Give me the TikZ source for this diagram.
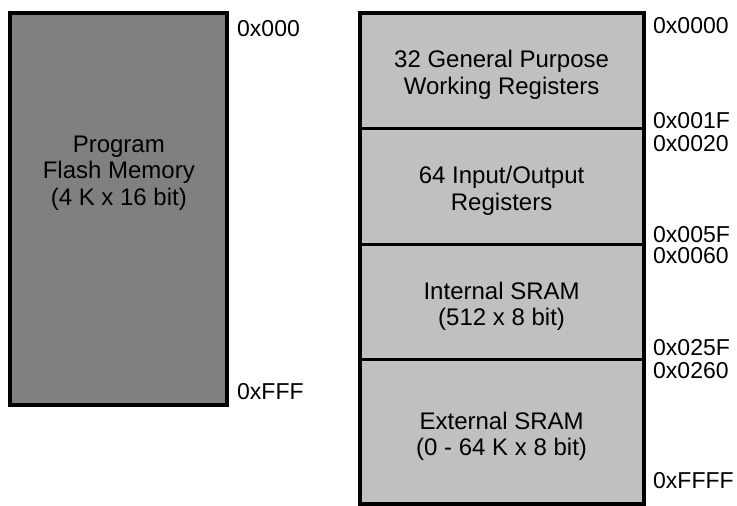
\documentclass[tikz,border=0pt]{standalone}
\usepackage{fontspec}
\setmainfont{Liberation Sans}
\definecolor{flashgray}{RGB}{128,128,128}
\definecolor{ramgray}{RGB}{192,192,192}
\tikzset{
  txt/.style={anchor=base, inner sep=0pt, font=\fontsize{24}{26.5}\selectfont},
  addr/.style={anchor=base west, inner sep=0pt, text height=16.5pt, text depth=0pt, font=\fontsize{23}{26.5}\selectfont},
  region/.style={draw=black, line width=3pt, anchor=north west, inner sep=0pt, outer sep=0pt},
  frame/.style={draw=black, line width=4pt, anchor=north west, inner sep=0pt, outer sep=0pt}
}
\begin{document}
\begin{tikzpicture}[x=1pt, y=-1pt]
\useasboundingbox (0,0) rectangle (737,506);
% left: program flash
\node[frame, fill=flashgray, minimum width=217pt, minimum height=392.3pt] (flash) at (10.3,13) {};
\node[txt] (f1) at (118.8,152.3) {Program};
\node[txt] (f2) at (118.8,178.8) {Flash Memory};
\node[txt] (f3) at (118.8,205.3) {(4 K x 16 bit)};
\node[addr] (a0) at (237,36) {0x000};
\node[addr] (a1) at (237,399) {0xFFF};
% right: data memory
\node[region, fill=ramgray, minimum width=284.3pt, minimum height=115.8pt] (gpr) at (359.5,13) {};
\node[region, fill=ramgray, minimum width=284.3pt, minimum height=115.5pt] (io) at (359.5,128.8) {};
\node[region, fill=ramgray, minimum width=284.3pt, minimum height=115.3pt] (isram) at (359.5,244.3) {};
\node[region, fill=ramgray, minimum width=284.3pt, minimum height=143.9pt] (esram) at (359.5,359.6) {};
\node[frame, minimum width=284.3pt, minimum height=490.5pt] (data) at (359.5,13) {};
\node[txt] (g1) at (501.6,67.7) {32 General Purpose};
\node[txt] (g2) at (501.6,94.3) {Working Registers};
\node[txt] (i1) at (501.6,183.4) {64 Input/Output};
\node[txt] (i2) at (501.6,210) {Registers};
\node[txt] (s1) at (501.6,299.3) {Internal SRAM};
\node[txt] (s2) at (501.6,325.7) {(512 x 8 bit)};
\node[txt] (e1) at (501.6,429.3) {External SRAM};
\node[txt] (e2) at (501.6,455.7) {(0 - 64 K x 8 bit)};
\node[addr] (b0) at (653,34) {0x0000};
\node[addr] (b1) at (653,128.3) {0x001F};
\node[addr] (b2) at (653,151.7) {0x0020};
\node[addr] (b3) at (653,242.8) {0x005F};
\node[addr] (b4) at (653,263.5) {0x0060};
\node[addr] (b5) at (653,355) {0x025F};
\node[addr] (b6) at (653,378.3) {0x0260};
\node[addr] (b7) at (653,488.3) {0xFFFF};
\end{tikzpicture}
\end{document}
